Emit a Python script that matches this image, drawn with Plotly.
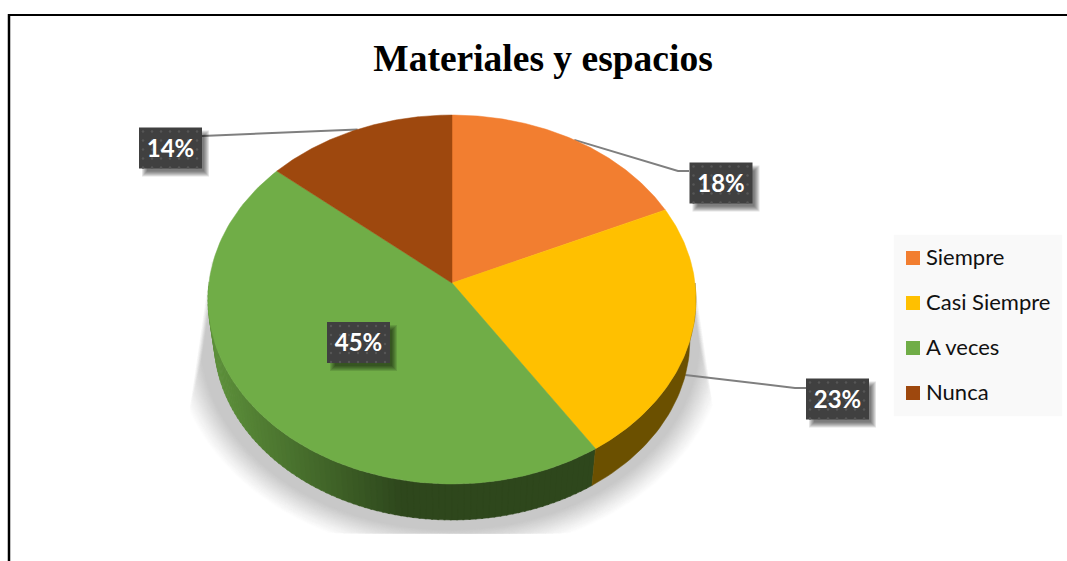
import numpy as np
import plotly.graph_objects as go

categorias = ["Siempre", "Casi Siempre", "A veces", "Nunca"]
valores = [18.2, 22.6, 45.4, 13.8]
colores = ["#f27e30", "#ffc000", "#70ad47", "#9e480e"]
titulo = "Materiales y espacios"

W, H = 1067, 561
CX, CY = 452, 283
AX, BY, K = 243, 183, -0.0894
ESCALA_BASE, CY_BASE = 0.975, 324

# centros de las etiquetas, en pixeles de la imagen
CENTROS_ETIQUETA = [(721, 183), (837.5, 399), (358.5, 342.5), (170.5, 148)]
# quiebres de las lineas guia (None = sin guia)
GUIAS = [[(678, 171), (689, 171)], [(795, 388), (806, 388)], None, [(202, 136)]]


def proyectar(frac, escala=1.0, cy=CY):
    # circulo unidad visto en perspectiva; frac = fraccion de vuelta desde arriba
    ang = 2 * np.pi * np.asarray(frac, dtype=float)
    u, v = np.sin(ang), -np.cos(ang)
    d = 1 + K * v
    return CX + escala * AX * u / d, cy + escala * BY * v / d


def poligono(fig, x, y, color):
    fig.add_trace(go.Scatter(x=list(x), y=list(y), mode="lines", fill="toself", fillcolor=color,
                             line=dict(color=color, width=0.5), hoverinfo="skip", showlegend=False))


def mezcla(a, b, t):
    return "#%02x%02x%02x" % tuple(int(round(p + (q - p) * t)) for p, q in zip(a, b))


fig = go.Figure()

# sombra difusa bajo la torta, recortada en cuña a los lados y recta abajo
n_capas = 30
for i in range(n_capas):
    t = i / (n_capas - 1)
    a = 278 - 28 * t
    b = 218 - 26 * t
    ang = np.linspace(0, 2 * np.pi, 240)
    sx = 450 + a * np.cos(ang)
    sy = np.clip(338 + b * np.sin(ang), 262, 533)
    borde = 20 * (sy - 262) / 138 - 5 * t
    sx = np.clip(sx, 211 - borde, 692 + borde)
    poligono(fig, sx, sy, mezcla((255, 255, 255), (200, 200, 200), t ** 1.1))

# lineas guia
acum = np.cumsum([0] + valores) / sum(valores)
medios = (acum[:-1] + acum[1:]) / 2
for i, guia in enumerate(GUIAS):
    if guia is None:
        continue
    if categorias[i] == "Casi Siempre":
        x0, y0 = proyectar(medios[i], ESCALA_BASE, CY_BASE)
    else:
        x0, y0 = proyectar(medios[i])
    fig.add_trace(go.Scatter(x=[float(x0)] + [p[0] for p in guia], y=[float(y0)] + [p[1] for p in guia],
                             mode="lines", line=dict(color="#7f7f7f", width=2),
                             hoverinfo="skip", showlegend=False))

# pared lateral: Casi Siempre oscuro y A veces con degradado
f_visible = np.linspace(acum[2], 0.75, 90)
for f0, f1 in zip(f_visible[:-1], f_visible[1:]):
    fr = np.array([f0, f1 + 0.001])
    xa, ya = proyectar(fr)
    xb, yb = proyectar(fr[::-1], ESCALA_BASE, CY_BASE)
    t = np.clip((float(xa.mean()) - 215) / 185, 0, 1)
    poligono(fig, np.r_[xa, xb, xa[0]], np.r_[ya, yb, ya[0]], mezcla((92, 143, 58), (46, 71, 28), t))
f_visible = np.linspace(0.25, acum[2], 40)
xa, ya = proyectar(f_visible)
xb, yb = proyectar(f_visible[::-1], ESCALA_BASE, CY_BASE)
poligono(fig, np.r_[xa, xb, xa[0]], np.r_[ya, yb, ya[0]], "#6b5000")

# cara superior
for i, color in enumerate(colores):
    fr = np.linspace(acum[i], acum[i + 1], 120)
    x, y = proyectar(fr)
    poligono(fig, np.r_[CX, x, CX], np.r_[CY, y, CY], color)

# etiquetas con sombra y trama de puntos
for i, (cx, cy) in enumerate(CENTROS_ETIQUETA):
    mw, mh = 31.5, 20.5
    for r in range(5, -1, -1):
        # sombra desplazada abajo a la derecha, cada capa mas oscura
        dx0, dy0 = cx - mw + 8 - r, cy - mh + 8 - r
        dx1, dy1 = cx + mw + 2 + r, cy + mh + 3 + r
        fig.add_trace(go.Scatter(x=[dx0, dx1, dx1, dx0, dx0], y=[dy0, dy0, dy1, dy1, dy0], mode="lines",
                                 fill="toself", fillcolor="rgba(0,0,0,0.11)", line=dict(width=0),
                                 hoverinfo="skip", showlegend=False))
    fig.add_trace(go.Scatter(x=[cx - mw, cx + mw, cx + mw, cx - mw, cx - mw],
                             y=[cy - mh, cy - mh, cy + mh, cy + mh, cy - mh], mode="lines",
                             fill="toself", fillcolor="#404040", line=dict(width=0),
                             hoverinfo="skip", showlegend=False))
    gx, gy = np.meshgrid(np.arange(cx - mw + 4, cx + mw, 9), np.arange(cy - mh + 4, cy + mh, 9))
    fig.add_trace(go.Scatter(x=gx.ravel(), y=gy.ravel(), mode="markers",
                             marker=dict(color="#565656", size=2.5, line=dict(width=0)),
                             hoverinfo="skip", showlegend=False))
    fig.add_trace(go.Scatter(x=[cx], y=[cy + 2.5], mode="text", text=[f"{round(valores[i])}%"],
                             textposition="middle center",
                             textfont=dict(family="Lato", size=24, color="white", weight="bold"),
                             hoverinfo="skip", showlegend=False))

# leyenda
LEY_X, LEY_Y0, LEY_DY = 913, 258, 45
ley_y = [LEY_Y0 + LEY_DY * i for i in range(len(categorias))]
poligono(fig, [894, 1062, 1062, 894, 894], [235, 235, 416, 416, 235], "#f9f9f9")
fig.add_trace(go.Scatter(x=[LEY_X] * len(categorias), y=ley_y, mode="markers",
                         marker=dict(symbol="square", size=14, color=colores, line=dict(width=0)),
                         hoverinfo="skip", showlegend=False))
fig.add_trace(go.Scatter(x=[LEY_X + 13] * len(categorias), y=[v + 1 for v in ley_y], mode="text", text=categorias,
                         textposition="middle right", textfont=dict(family="Lato", size=22, color="#111111"),
                         hoverinfo="skip", showlegend=False))

fig.update_layout(
    width=W,
    height=H,
    margin=dict(l=0, r=0, t=0, b=0),
    paper_bgcolor="white",
    plot_bgcolor="white",
    showlegend=False,
    title=dict(text=f"<b>{titulo}</b>", x=543 / W, xanchor="center", y=1 - 58 / H, yanchor="middle",
               font=dict(family="Liberation Serif", size=37.5, color="black")),
    shapes=[
        dict(type="line", xref="x", yref="y", x0=9, x1=9, y0=14, y1=H, line=dict(color="black", width=2.5)),
        dict(type="line", xref="x", yref="y", x0=8, x1=W, y0=15, y1=15, line=dict(color="black", width=2)),
    ],
)
fig.update_xaxes(range=[0, W], visible=False, fixedrange=True)
fig.update_yaxes(range=[H, 0], visible=False, fixedrange=True)

fig.write_html("out.html", config={"displayModeBar": False}, post_script="document.body.style.margin='0';")
